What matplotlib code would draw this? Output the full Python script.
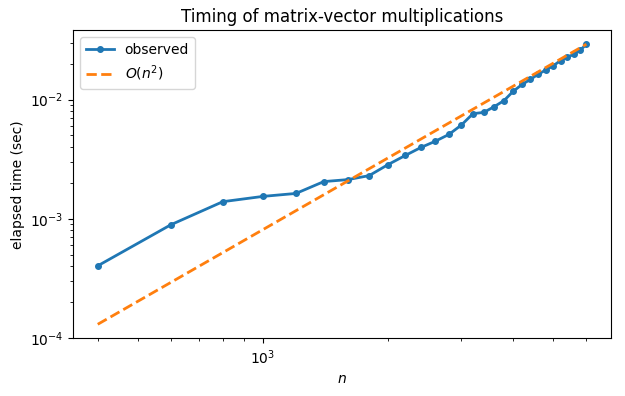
import numpy as np
import matplotlib
matplotlib.use("Agg")
import matplotlib.pyplot as plt

n_vals = [400, 600, 800, 1000, 1200, 1400, 1600, 1800, 2000, 2200, 2400, 2600,
          2800, 3000, 3200, 3400, 3600, 3800, 4000, 4200, 4400, 4600, 4800,
          5000, 5200, 5400, 5600, 5800, 6000]
t_obs = [4.02e-4, 8.9e-4, 1.39e-3, 1.54e-3, 1.63e-3, 2.05e-3, 2.13e-3, 2.30e-3,
         2.85e-3, 3.40e-3, 3.97e-3, 4.48e-3, 5.10e-3, 6.11e-3, 7.62e-3, 7.82e-3,
         8.73e-3, 9.81e-3, 1.175e-2, 1.34e-2, 1.48e-2, 1.64e-2, 1.78e-2,
         1.93e-2, 2.13e-2, 2.27e-2, 2.41e-2, 2.60e-2, 2.92e-2]

n = np.array(n_vals, dtype=float)
t = np.array(t_obs)

fig = plt.figure(figsize=(6.25, 3.96), dpi=100)
ax = fig.add_axes([0.1173, 0.1457, 0.860, 0.778])

ax.loglog(n, t, "-o", lw=2, markersize=4, label="observed")
ax.loglog(n, t[-1] * (n / n[-1]) ** 2, "--", lw=2, label="$O(n^2)$")

ax.set_xlabel("$n$")
ax.set_ylabel("elapsed time (sec)")
ax.set_title("Timing of matrix-vector multiplications")
ax.legend(loc="upper left")

plt.savefig("out.png", dpi=100)
